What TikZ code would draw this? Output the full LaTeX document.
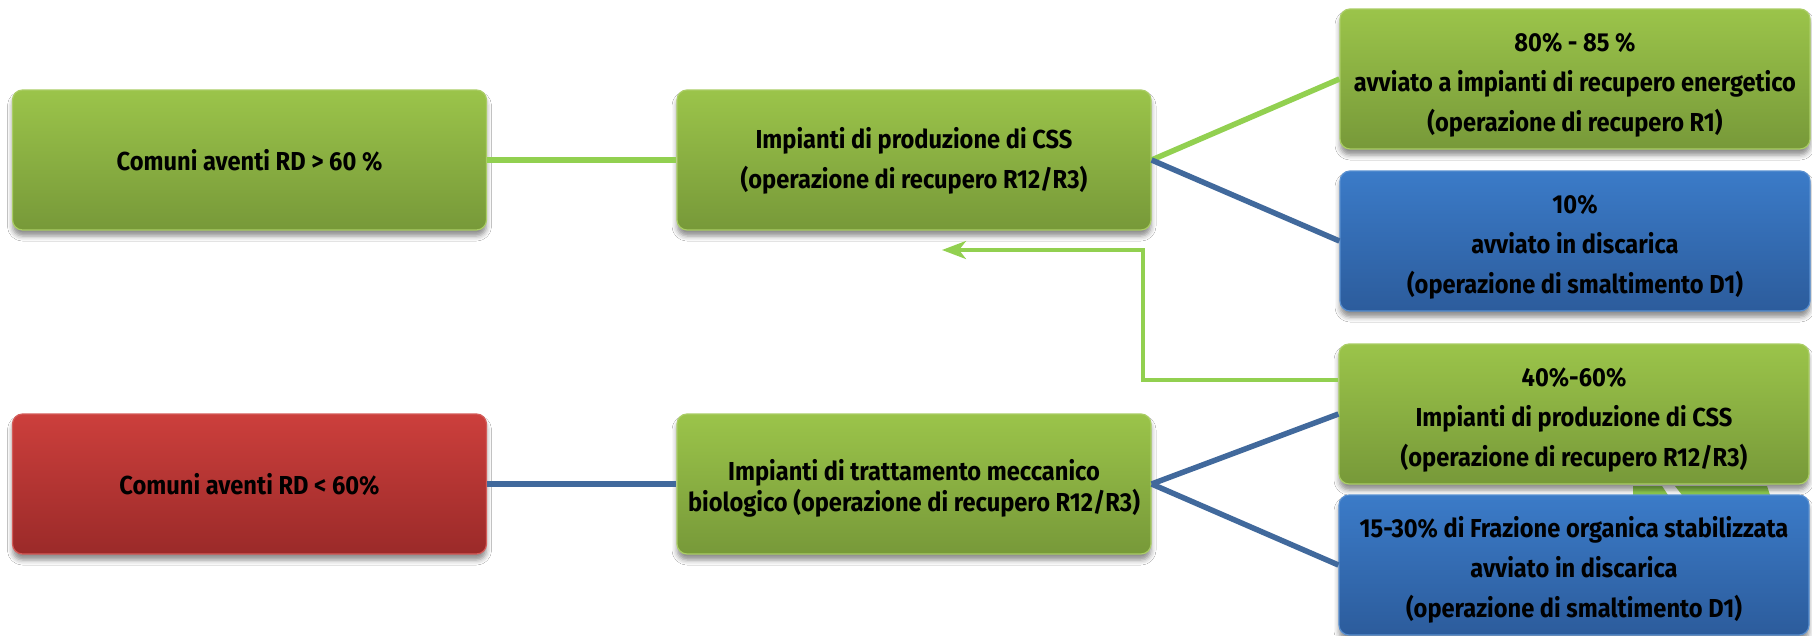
\documentclass[tikz,border=0pt]{standalone}
\usepackage{fontspec}
\newfontfamily\boxfont{Fira Sans}[FakeStretch=0.91]
\usetikzlibrary{shadows.blur, arrows.meta}
\definecolor{gtop}{HTML}{9BC44A}
\definecolor{gbot}{HTML}{779939}
\definecolor{btop}{HTML}{3B7BC8}
\definecolor{bbot}{HTML}{2C5C9C}
\definecolor{rtop}{HTML}{CC3F3C}
\definecolor{rbot}{HTML}{9B2A29}
\definecolor{lgreen}{HTML}{92D050}
\definecolor{lblue}{HTML}{41699C}
\newcommand{\dnshift}{\rule{0pt}{30pt}}
\tikzset{
  box/.style={rounded corners=10pt, minimum width=474pt, minimum height=140pt,
    align=center, inner sep=0pt, text=black,
    font={\boxfont\bfseries\fontsize{26}{40}\selectfont},
    blur shadow={shadow xshift=0pt, shadow yshift=-6pt, shadow blur radius=5pt, shadow opacity=45},
    line width=1.2pt},
  rbox/.style={box, minimum width=470pt},
  gfill/.style={top color=gtop, bottom color=gbot, draw=gtop!85!white},
  bfill/.style={top color=btop, bottom color=bbot, draw=btop!85!white},
  redfill/.style={top color=rtop, bottom color=rbot, draw=rtop!85!white},
  gline/.style={draw=lgreen, line width=5.5pt},
  bline/.style={draw=lblue, line width=5.5pt},
  fbline/.style={draw=lgreen, line width=3.5pt, -{Stealth[length=24pt,width=18pt,inset=7pt]}},
}
\begin{document}
\begin{tikzpicture}[x=1pt, y=-1pt]
\useasboundingbox (0,0) rectangle (1812,635);
\fill[white] (0,0) rectangle (1812,635);
% small visible connector fragments between the two lower right boxes
\fill[lgreen] (1633,486) -- (1662,486) -- (1668,495) -- (1633,495) -- cycle;
\fill[lgreen] (1675,486) -- (1767,486) -- (1770,495) -- (1682,495) -- cycle;

\node[box, gfill] (A) at (249.5,160) {Comuni aventi RD > 60 \%};
\node[box, gfill] (B) at (914,160) {\rule{0pt}{23pt}Impianti di produzione di CSS\\(operazione di recupero R12/R3)};
\node[rbox, gfill] (C) at (1575,79) {\dnshift 80\% - 85 \%\\avviato a impianti di recupero energetico\\(operazione di recupero R1)};
\node[rbox, bfill] (D) at (1575,241) {\dnshift 10\%\\avviato in discarica\\(operazione di smaltimento D1)};
\node[rbox, gfill] (E) at (1574,414) {\dnshift 40\%-60\%\\Impianti di produzione di CSS\\(operazione di recupero R12/R3)};
\node[rbox, bfill] (F) at (1574,565) {\dnshift 15-30\% di Frazione organica stabilizzata\\avviato in discarica\\(operazione di smaltimento D1)};
\node[box, redfill] (G) at (249.5,484) {Comuni aventi RD < 60\%};
\node[box, gfill, font={\boxfont\bfseries\fontsize{26}{31}\selectfont}] (H) at (914,484) {\dnshift Impianti di trattamento meccanico\\biologico (operazione di recupero R12/R3)};

\coordinate (fbk) at (1143,250);
\coordinate (fbtip) at (942,250);

\draw[gline] (A.east) -- (B.west);
\draw[gline] (B.east) -- (C.west);
\draw[bline] (B.east) -- (D.west);
\draw[bline] (G.east) -- (H.west);
\draw[bline] (H.east) -- (E.west);
\draw[bline] (H.east) -- (F.west);
\draw[fbline] ([yshift=34pt]E.west) -| (fbk) -- (fbtip);
\end{tikzpicture}
\end{document}
